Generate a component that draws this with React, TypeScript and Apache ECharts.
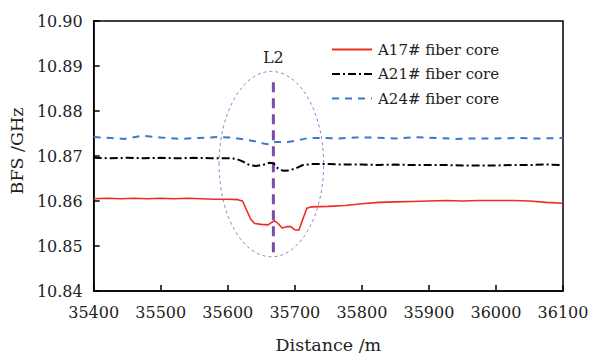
import React, { useEffect, useRef } from "react";
import * as echarts from "echarts";

const xTicks = [35400, 35500, 35600, 35700, 35800, 35900, 36000, 36100];
const seriesNames = ["A17# fiber core", "A21# fiber core", "A24# fiber core"];

const a17X = [35400, 35420, 35440, 35460, 35480, 35500, 35520, 35540, 35560, 35580, 35600, 35615, 35622, 35628, 35634, 35640, 35650, 35660, 35665, 35670, 35675, 35681, 35688, 35694, 35700, 35706, 35712, 35718, 35725, 35750, 35775, 35800, 35825, 35850, 35875, 35900, 35925, 35950, 35975, 36000, 36025, 36050, 36075, 36100];
const a17Y = [10.8605, 10.8606, 10.8605, 10.8606, 10.8605, 10.8606, 10.8605, 10.8606, 10.8605, 10.8604, 10.8604, 10.8603, 10.86, 10.858, 10.856, 10.855, 10.8548, 10.8547, 10.8552, 10.8556, 10.855, 10.854, 10.8543, 10.8543, 10.8536, 10.8535, 10.856, 10.8584, 10.8587, 10.8588, 10.859, 10.8594, 10.8597, 10.8598, 10.8599, 10.86, 10.8601, 10.86, 10.8601, 10.8601, 10.8601, 10.86, 10.8597, 10.8595];

const a21X = [35400, 35425, 35450, 35475, 35500, 35525, 35550, 35575, 35600, 35612, 35622, 35632, 35642, 35652, 35662, 35668, 35675, 35683, 35692, 35702, 35712, 35725, 35750, 35775, 35800, 35825, 35850, 35875, 35900, 35925, 35950, 35975, 36000, 36025, 36050, 36075, 36100];
const a21Y = [10.8696, 10.8695, 10.8696, 10.8695, 10.8696, 10.8695, 10.8696, 10.8695, 10.8695, 10.8694, 10.8688, 10.868, 10.8678, 10.868, 10.8685, 10.8684, 10.8672, 10.8667, 10.8668, 10.8673, 10.868, 10.8682, 10.8682, 10.8681, 10.8681, 10.868, 10.8681, 10.868, 10.868, 10.868, 10.8679, 10.8679, 10.8679, 10.868, 10.868, 10.8681, 10.868];

const a24X = [35400, 35425, 35445, 35472, 35500, 35530, 35555, 35585, 35605, 35625, 35640, 35655, 35663, 35670, 35690, 35705, 35720, 35740, 35765, 35790, 35820, 35850, 35880, 35910, 35940, 35970, 36000, 36030, 36060, 36100];
const a24Y = [10.8742, 10.874, 10.8738, 10.8745, 10.8741, 10.8738, 10.874, 10.8742, 10.8741, 10.8737, 10.8733, 10.8727, 10.8726, 10.8731, 10.8731, 10.8735, 10.874, 10.874, 10.8739, 10.8741, 10.8741, 10.8739, 10.8742, 10.874, 10.8738, 10.8739, 10.8739, 10.874, 10.8739, 10.874];

const markerX = 35668;
const markerYRange = [10.8486, 10.8868];
const ellipseCenter = [35665, 10.8682];
const ellipseHalf = [78, 0.0206];
const labelPos = [35668, 10.892];

const FONT = "'DejaVu Serif', 'Liberation Serif', serif";

function zip(xs: number[], ys: number[]) {
  return xs.map((x, i) => [x, ys[i]]);
}

export default function App() {
  const ref = useRef<HTMLDivElement>(null);
  useEffect(() => {
    if (!ref.current) return;
    const chart = echarts.init(ref.current, null, { renderer: "svg" });
    chart.setOption({
      animation: false,
      backgroundColor: "#fff",
      textStyle: { fontFamily: FONT },
      grid: { left: 88, right: 29, top: 21, bottom: 55, show: true, borderColor: "#000", borderWidth: 1.5, backgroundColor: "transparent" },
      legend: {
        data: seriesNames,
        orient: "vertical",
        left: 326,
        top: 37,
        itemWidth: 40,
        itemHeight: 10,
        itemGap: 9.5,
        itemStyle: { opacity: 0 },
        textStyle: { fontFamily: FONT, fontSize: 15, color: "#222", padding: [0, 0, 0, 1] },
      },
      xAxis: {
        type: "value",
        min: 35400,
        max: 36100,
        interval: 100,
        name: "Distance /m",
        nameLocation: "middle",
        nameGap: 45,
        nameTextStyle: { fontFamily: FONT, fontSize: 17.5, color: "#222" },
        axisLine: { lineStyle: { color: "#000", width: 1.5 } },
        axisTick: { inside: true, length: 6, lineStyle: { color: "#000", width: 1.5 } },
        axisLabel: { fontFamily: FONT, fontSize: 16, color: "#222", margin: 13, formatter: (v: number) => (xTicks.includes(v) ? String(v) : "") },
        splitLine: { show: false },
      },
      yAxis: {
        type: "value",
        min: 10.84,
        max: 10.9,
        interval: 0.01,
        name: "BFS /GHz",
        nameLocation: "middle",
        nameGap: 63,
        nameTextStyle: { fontFamily: FONT, fontSize: 17.5, color: "#222", padding: [0, 0, 0, 10] },
        axisLine: { lineStyle: { color: "#000", width: 1.5 } },
        axisTick: { inside: true, length: 6, lineStyle: { color: "#000", width: 1.5 } },
        axisLabel: { fontFamily: FONT, fontSize: 16, color: "#222", margin: 11, formatter: (v: number) => v.toFixed(2) },
        splitLine: { show: false },
      },
      series: [
        {
          name: seriesNames[0],
          type: "line",
          data: zip(a17X, a17Y),
          symbol: "none",
          color: "#ee2b24",
          lineStyle: { color: "#ee2b24", width: 1.6 },
          z: 3,
        },
        {
          name: seriesNames[1],
          type: "line",
          data: zip(a21X, a21Y),
          symbol: "none",
          color: "#000",
          lineStyle: { color: "#000", width: 2, type: [8, 3, 2, 3] },
          z: 3,
        },
        {
          name: seriesNames[2],
          type: "line",
          data: zip(a24X, a24Y),
          symbol: "none",
          color: "#3a78c9",
          lineStyle: { color: "#3a78c9", width: 2, type: [7, 6] },
          z: 3,
        },
        {
          name: "marker",
          type: "line",
          data: [[markerX, markerYRange[0]], [markerX, markerYRange[1]]],
          symbol: "none",
          lineStyle: { color: "#7b4aa8", width: 3, type: [10, 6] },
          z: 2,
        },
      ],
    });

    const c = chart.convertToPixel({ gridIndex: 0 }, ellipseCenter) as number[];
    const e = chart.convertToPixel({ gridIndex: 0 }, [ellipseCenter[0] + ellipseHalf[0], ellipseCenter[1] + ellipseHalf[1]]) as number[];
    const l = chart.convertToPixel({ gridIndex: 0 }, labelPos) as number[];
    chart.setOption({
      graphic: [
        {
          type: "ellipse",
          shape: { cx: c[0], cy: c[1], rx: Math.abs(e[0] - c[0]), ry: Math.abs(e[1] - c[1]) },
          style: { fill: "none", stroke: "#9a7fd0", lineWidth: 1, lineDash: [3, 3] },
          z: 1,
        },
        {
          type: "text",
          x: l[0],
          y: l[1],
          style: { text: "L2", fontFamily: FONT, fontSize: 16, fill: "#222", align: "center", verticalAlign: "middle" },
        },
      ],
    });
    return () => chart.dispose();
  }, []);
  return <div ref={ref} style={{ width: 592, height: 359, position: "absolute", left: 0, top: 0 }} />;
}
